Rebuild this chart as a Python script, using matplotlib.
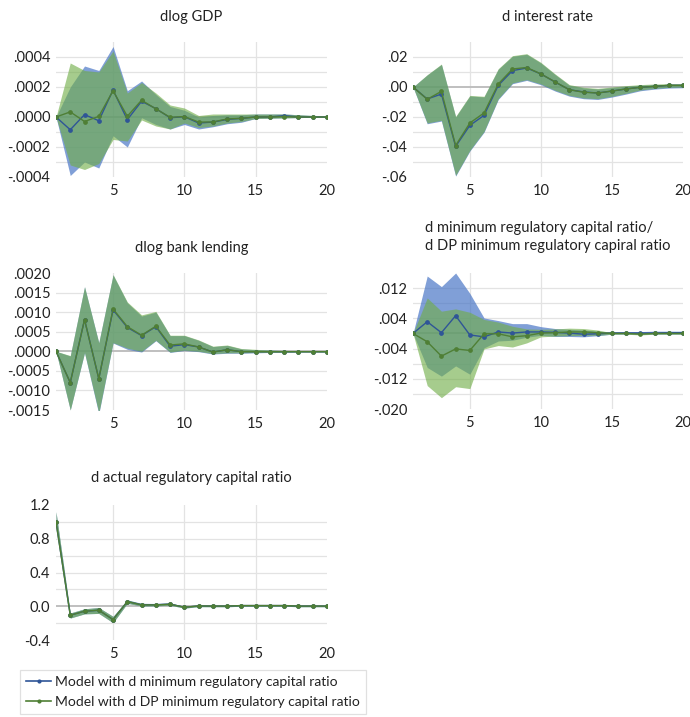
import matplotlib
matplotlib.use("Agg")
import matplotlib.pyplot as plt
from matplotlib.lines import Line2D

plt.rcParams['font.family'] = ['Lato', 'DejaVu Sans']

periods = list(range(1, 21))

# ---- dlog GDP ----
gdp_blue = [0, -0.000085, 0.000016, -0.000025, 0.00018, -0.000018, 0.000105, 0.000056, -0.000005, 0.000002,
            -0.00004, -0.000034, -0.000016, -0.000009, 0.0, 0.0, 0.000009, 0.0, 0.0, 0.0]
gdp_blue_hi = [0, 0.0002, 0.00034, 0.00031, 0.00047, 0.000175, 0.00024, 0.00015, 0.00007, 0.000045,
               0.0, 0.00001, 0.000015, 0.000015, 0.00002, 0.00002, 0.00002, 0.000015, 0.00001, 0.000005]
gdp_blue_lo = [0, -0.00039, -0.0003, -0.00034, -0.000125, -0.0002, -0.000005, -0.00005, -0.00008, -0.00005,
               -0.00008, -0.000065, -0.000045, -0.000035, -0.00001, -0.000008, -0.000006, -0.000004, -0.000002, -0.000002]
gdp_green = [0, 0.000034, -0.00003, 0.000004, 0.000175, 0.000005, 0.000112, 0.000054, -0.000002, 0.000003,
             -0.000034, -0.000033, -0.000013, -0.000009, 0.0, 0.0, 0.000002, 0.0, 0.0, 0.0]
gdp_green_hi = [0, 0.00036, 0.00031, 0.0003, 0.00044, 0.00016, 0.00023, 0.00016, 0.00008, 0.00006,
                0.00001, 0.00002, 0.00002, 0.00002, 0.00002, 0.00002, 0.00002, 0.000015, 0.00001, 0.000005]
gdp_green_lo = [0, -0.00032, -0.00035, -0.00031, -0.00015, -0.00016, -0.00002, -0.00006, -0.00008, -0.00004,
                -0.00007, -0.00006, -0.00004, -0.00003, -0.00001, -0.000008, -0.000006, -0.000004, -0.000002, -0.000002]

# ---- d interest rate ----
ir_blue = [0, -0.008, -0.0047, -0.0396, -0.0256, -0.0189, 0.0011, 0.0109, 0.0127, 0.0087,
           0.0033, -0.0018, -0.0033, -0.004, -0.0027, -0.0013, -0.0002, 0.0004, 0.0011, 0.0011]
ir_blue_hi = [0, 0.0080, 0.0150, -0.0200, -0.0060, -0.0066, 0.0118, 0.0205, 0.0218, 0.0160,
              0.0083, 0.0012, -0.0006, -0.0013, -0.0004, 0.0005, 0.0012, 0.0016, 0.0018, 0.0018]
ir_blue_lo = [0, -0.0245, -0.0227, -0.0594, -0.0427, -0.0301, -0.0083, 0.0022, 0.0044, 0.0015,
              -0.0027, -0.0061, -0.0078, -0.0083, -0.0067, -0.0047, -0.0025, -0.0014, -0.0007, -0.0005]
ir_green = [0, -0.0082, -0.0029, -0.039, -0.024, -0.0173, 0.002, 0.012, 0.013, 0.0087,
            0.0034, -0.0018, -0.0035, -0.004, -0.0027, -0.0013, -0.0002, 0.0004, 0.0011, 0.0011]
ir_green_hi = [0, 0.0082, 0.0153, -0.0196, -0.0056, -0.0062, 0.0122, 0.0209, 0.0222, 0.0164,
               0.0087, 0.0016, -0.0002, -0.0009, 0.0, 0.0009, 0.0016, 0.002, 0.0022, 0.0022]
ir_green_lo = [0, -0.024, -0.0222, -0.0589, -0.0422, -0.0296, -0.0078, 0.0027, 0.0049, 0.002,
               -0.0022, -0.0056, -0.0073, -0.0078, -0.0062, -0.0042, -0.002, -0.0009, -0.0002, 0.0]

# ---- dlog bank lending ----
bl_blue = [0, -0.0008, 0.00081, -0.0007, 0.00106, 0.00061, 0.0004, 0.00063, 0.00013, 0.00017,
           0.00011, -0.00002, 0.00004, -0.00001, -0.00001, -0.00001, -0.00001, -0.00001, -0.00001, -0.00001]
bl_blue_hi = [0, -0.00012, 0.00165, 0.00022, 0.00195, 0.00124, 0.0009, 0.001, 0.0004, 0.0004,
              0.00028, 0.00012, 0.00015, 0.00006, 0.00004, 0.00003, 0.00002, 0.00002, 0.00001, 0.00001]
bl_blue_lo = [0, -0.0015, -0.00004, -0.0016, 0.00021, 0.00005, -0.00002, 0.00027, -0.00003, 0.00002,
              -0.00001, -0.00007, -0.00005, -0.00005, -0.00004, -0.00003, -0.00003, -0.00002, -0.00002, -0.00002]
bl_green = [0, -0.0008, 0.00081, -0.0007, 0.00108, 0.00063, 0.00041, 0.00064, 0.00016, 0.00019,
            0.00011, -0.00002, 0.00004, -0.00001, -0.00001, -0.00001, -0.00001, -0.00001, -0.00001, -0.00001]
bl_green_hi = [0, -0.00011, 0.00165, 0.00022, 0.00196, 0.00126, 0.00093, 0.00102, 0.00041, 0.00041,
               0.00029, 0.00013, 0.00016, 0.00007, 0.00005, 0.00003, 0.00002, 0.00002, 0.00001, 0.00001]
bl_green_lo = [0, -0.0015, -0.00003, -0.00157, 0.00022, 0.00008, 0.0, 0.00028, -0.00002, 0.00003,
               0.0, -0.00006, -0.00004, -0.00004, -0.00003, -0.00003, -0.00002, -0.00002, -0.00002, -0.00002]

# ---- d minimum regulatory capital ratio / d DP minimum regulatory capital ratio ----
mr_blue = [0, 0.0031, 0.0002, 0.0047, -0.0004, -0.0009, 0.0004, 0.0001, 0.0004, 0.0004,
           0.0003, 0.0001, -0.0002, -0.0001, 0.0001, 0.0001, 0.0001, 0.0001, 0.0002, 0.0002]
mr_blue_hi = [0, 0.0152, 0.0124, 0.016, 0.0106, 0.0041, 0.0034, 0.0026, 0.0026, 0.0018,
              0.0013, 0.0011, 0.0009, 0.0006, 0.0004, 0.0005, 0.0005, 0.0006, 0.0006, 0.0006]
mr_blue_lo = [0, -0.009, -0.0113, -0.0086, -0.0108, -0.0038, -0.002, -0.0018, -0.001, -0.0005,
              -0.0008, -0.0008, -0.0009, -0.0006, -0.0002, -0.0002, -0.0002, -0.0002, -0.0002, -0.0002]
mr_green = [0, -0.0022, -0.006, -0.0041, -0.0045, -0.0001, -0.0001, -0.0009, -0.0006, 0.0001,
            0.0002, 0.0004, 0.0004, 0.0002, 0.0, 0.0, -0.0002, 0.0, 0.0, 0.0]
mr_green_hi = [0, 0.0094, 0.0059, 0.0065, 0.0056, 0.0037, 0.003, 0.0019, 0.0012, 0.0011,
               0.0012, 0.0014, 0.0013, 0.0009, 0.0002, 0.0002, 0.0001, 0.0002, 0.0002, 0.0002]
mr_green_lo = [0, -0.0138, -0.017, -0.0141, -0.0146, -0.0041, -0.0032, -0.0036, -0.0025, -0.0009,
               -0.0007, -0.0006, -0.0005, -0.0005, -0.0002, -0.0002, -0.0004, -0.0002, -0.0002, -0.0002]

# ---- d actual regulatory capital ratio ----
ar_blue = [1.0, -0.106, -0.059, -0.047, -0.158, 0.055, 0.018, 0.018, 0.026, -0.012,
           0.004, 0.002, 0.002, 0.008, 0.008, 0.008, 0.008, 0.002, 0.002, 0.002]
ar_blue_hi = [1.12, -0.08, -0.03, -0.015, -0.12, 0.075, 0.035, 0.033, 0.038, 0.0,
              0.012, 0.01, 0.01, 0.015, 0.015, 0.015, 0.015, 0.01, 0.01, 0.01]
ar_blue_lo = [0.98, -0.14, -0.09, -0.085, -0.195, 0.035, 0.003, 0.005, 0.012, -0.022,
              -0.005, -0.006, -0.006, 0.0, 0.0, 0.0, 0.0, -0.006, -0.006, -0.006]
ar_green = [1.0, -0.106, -0.059, -0.047, -0.158, 0.055, 0.016, 0.016, 0.024, -0.012,
            0.004, 0.002, 0.002, 0.008, 0.008, 0.008, 0.008, 0.002, 0.002, 0.002]
ar_green_hi = [1.12, -0.08, -0.03, -0.015, -0.12, 0.075, 0.03, 0.028, 0.035, 0.0,
               0.012, 0.01, 0.01, 0.015, 0.015, 0.015, 0.015, 0.01, 0.01, 0.01]
ar_green_lo = [0.98, -0.14, -0.09, -0.085, -0.195, 0.035, 0.003, 0.005, 0.012, -0.022,
               -0.005, -0.006, -0.006, 0.0, 0.0, 0.0, 0.0, -0.006, -0.006, -0.006]

# tick values and their printed labels
gdp_ticks = [-0.0004, -0.0002, 0.0, 0.0002, 0.0004]
gdp_labels = ['-.0004', '-.0002', '.0000', '.0002', '.0004']
ir_ticks = [-0.06, -0.04, -0.02, 0.0, 0.02]
ir_labels = ['-.06', '-.04', '-.02', '.00', '.02']
bl_ticks = [-0.0015, -0.0010, -0.0005, 0.0, 0.0005, 0.0010, 0.0015, 0.0020]
bl_labels = ['-.0015', '-.0010', '-.0005', '.0000', '.0005', '.0010', '.0015', '.0020']
mr_ticks = [-0.020, -0.012, -0.004, 0.004, 0.012]
mr_labels = ['-.020', '-.012', '-.004', '.004', '.012']
ar_ticks = [-0.4, 0.0, 0.4, 0.8, 1.2]
ar_labels = ['-0.4', '0.0', '0.4', '0.8', '1.2']
x_ticks = [5, 10, 15, 20]

titles = ['dlog GDP', 'd interest rate', 'dlog bank lending',
          'd minimum regulatory capital ratio/\nd DP minimum regulatory capiral ratio',
          'd actual regulatory capital ratio']
legend_labels = ['Model with d minimum regulatory capital ratio',
                 'Model with d DP minimum regulatory capital ratio']

BLUE_FILL = '#4472C4'
GREEN_FILL = '#70AD47'
BLUE_LINE = '#2F5597'
GREEN_LINE = '#4F7F35'
GRID = '#E3E3E3'
ZERO = '#BFBFBF'
TEXT = '#222222'
FS = 10

W, H = 690, 717
fig = plt.figure(figsize=(W / 100, H / 100), dpi=100)


def panel(box, ylim, step, ticks, labels, blue, bhi, blo, green, ghi, glo):
    left, right, top, bottom = box
    ax = fig.add_axes([left / W, 1 - bottom / H, (right - left) / W, (bottom - top) / H])
    ax.set_xlim(1, 20)
    ax.set_ylim(*ylim)
    # interior horizontal gridlines
    n = int(round((ylim[1] - ylim[0]) / step))
    for i in range(1, n):
        v = ylim[0] + i * step
        if abs(v) > step * 1e-3:
            ax.axhline(v, color=GRID, lw=0.9, zorder=0)
    for xv in (5, 10, 15):
        ax.axvline(xv, color=GRID, lw=0.9, zorder=0)
    ax.axhline(0, color=ZERO, lw=1.4, zorder=0.5)

    ax.fill_between(periods, blo, bhi, color=BLUE_FILL, alpha=0.68, lw=0, zorder=1)
    ax.fill_between(periods, glo, ghi, color=GREEN_FILL, alpha=0.62, lw=0, zorder=2)
    ax.plot(periods, blue, color=BLUE_LINE, lw=1.0, marker='o', ms=2.4, zorder=3)
    ax.plot(periods, green, color=GREEN_LINE, lw=1.0, marker='o', ms=2.4, zorder=4)

    ax.set_xticks(x_ticks)
    ax.set_xticklabels([str(t) for t in x_ticks])
    ax.set_yticks(ticks)
    ax.set_yticklabels(labels)
    ax.tick_params(length=0, labelsize=FS + 0.5, colors=TEXT, pad=4)
    ax.tick_params(axis='x', pad=5)
    for s in ax.spines.values():
        s.set_visible(False)
    ax.set_facecolor('none')
    return ax


panels = [
    ((56, 327, 42, 177), (-0.0004, 0.0005), 0.0001, gdp_ticks, gdp_labels,
     gdp_blue, gdp_blue_hi, gdp_blue_lo, gdp_green, gdp_green_hi, gdp_green_lo, 17),
    ((413, 683, 42, 177), (-0.06, 0.03), 0.01, ir_ticks, ir_labels,
     ir_blue, ir_blue_hi, ir_blue_lo, ir_green, ir_green_hi, ir_green_lo, 17),
    ((56, 327, 273, 410), (-0.0015, 0.0020), 0.0005, bl_ticks, bl_labels,
     bl_blue, bl_blue_hi, bl_blue_lo, bl_green, bl_green_hi, bl_green_lo, 248),
    ((413, 683, 273, 409), (-0.020, 0.016), 0.004, mr_ticks, mr_labels,
     mr_blue, mr_blue_hi, mr_blue_lo, mr_green, mr_green_hi, mr_green_lo, 237),
    ((56, 327, 505, 640), (-0.4, 1.2), 0.2, ar_ticks, ar_labels,
     ar_blue, ar_blue_hi, ar_blue_lo, ar_green, ar_green_hi, ar_green_lo, 478),
]

for (box, ylim, step, ticks, labels, b, bh, bl, g, gh, gl, ty), title in zip(panels, titles):
    panel(box, ylim, step, ticks, labels, b, bh, bl, g, gh, gl)
    cx = (box[0] + box[1]) / 2
    fig.text(cx / W, 1 - ty / H, title, ha='center', va='center', multialignment='left',
             fontsize=FS + 0.5, color=TEXT, linespacing=1.45)

handles = [Line2D([], [], color=BLUE_LINE, lw=1.2, marker='o', ms=2.0),
           Line2D([], [], color=GREEN_LINE, lw=1.2, marker='o', ms=2.0)]
leg = fig.legend(handles, legend_labels, loc='upper left', bbox_to_anchor=(20 / W, 1 - 670 / H),
                 frameon=True, fancybox=False, edgecolor='#D9D9D9', fontsize=FS,
                 handlelength=1.8, handletextpad=0.25, borderaxespad=0, borderpad=0.45,
                 labelspacing=0.55, markerscale=1.0)
leg.get_frame().set_linewidth(0.9)
for t in leg.get_texts():
    t.set_color(TEXT)

fig.savefig('out.png', dpi=100)
